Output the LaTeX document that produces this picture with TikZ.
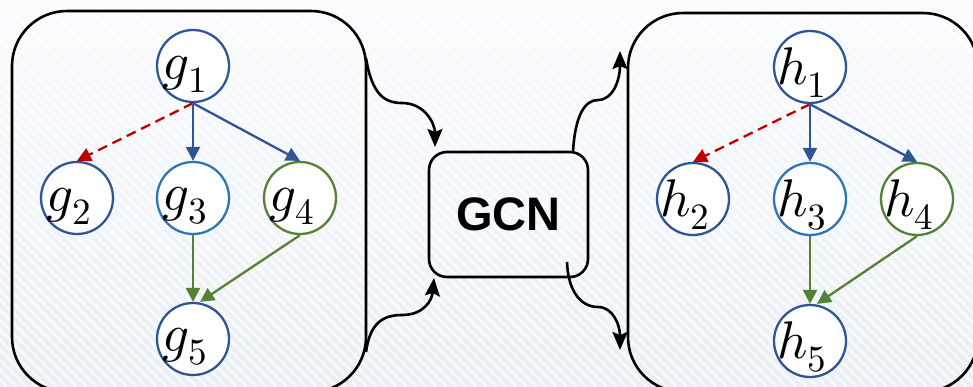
\documentclass[tikz,border=0pt]{standalone}
\usepackage{fontspec}
\usepackage{unicode-math}
\setmathfont{Latin Modern Math}
\newfontfamily\gcnfont{Liberation Sans}
\usetikzlibrary{arrows.meta}

\definecolor{nodeblue}{HTML}{2F5597}
\definecolor{lightblue}{HTML}{2E75B6}
\definecolor{nodegreen}{HTML}{548235}
\definecolor{edgered}{HTML}{C00000}
\definecolor{bgtop}{HTML}{FAFBFD}
\definecolor{bgbot}{HTML}{EAEFF5}

\tikzset{
  vertex/.style={circle,draw=#1,fill=white,line width=2.3pt,
    minimum size=72pt,inner sep=0pt},
  vlabel/.style={font=\fontsize{53}{56}\selectfont,inner sep=0pt},
  graphbox/.style={draw=black,line width=2.6pt,rounded corners=55pt},
  coloredge/.style={draw=#1,line width=2.3pt,
    -{Triangle[length=14pt,width=14pt]},shorten <=0pt},
  flow/.style={draw=black,line width=2.6pt,
    -{Stealth[length=18pt,width=15pt,inset=3pt]}},
}

\begin{document}
\begin{tikzpicture}[x=1pt,y=-1pt]
\useasboundingbox (0,0) rectangle (973,386);

% striped light background
\shade[top color=bgtop,bottom color=bgbot] (0,0) rectangle (973,386);
\begin{scope}
  \clip (0,0) rectangle (973,386);
  \foreach \i in {-400,-390,...,980}
    \draw[white,line width=3pt,opacity=0.6] (\i,0) -- (\i+386,386);
\end{scope}

% input graph box, GCN box, output graph box
\draw[graphbox] (12,11) rectangle (366,392);
\draw[graphbox] (628,13) rectangle (978,392);
\node[draw=black,line width=2.6pt,rounded corners=18pt,minimum width=159pt,
  minimum height=125pt,inner sep=0pt] (gcn) at (508.5,214.5)
  {\gcnfont\bfseries\fontsize{47}{50}\selectfont GCN};

% input graph
\foreach \n/\x/\y/\c in {1/193/66/nodeblue,2/77/198/nodeblue,3/193/198/lightblue,
                         4/300/198/nodegreen,5/193/339/nodeblue}{
  \node[vertex=\c] (g\n) at (\x,\y) {};
  \node[vlabel] (gl\n) at ([xshift=-8pt,yshift=-8pt]g\n.center) {$g_{\n}$};
}
\draw[coloredge=edgered,dash pattern=on 10pt off 6pt] (g1.south) -- (g2.north);
\draw[coloredge=nodeblue] (g1.south) -- (g3.north);
\draw[coloredge=nodeblue] (g1.south) -- (g4.north);
\draw[coloredge=nodegreen] (g3.south) -- (g5.north);
\draw[coloredge=nodegreen] (g4.south) -- ([xshift=7pt]g5.north);

% output graph
\foreach \n/\x/\y/\c in {1/810/67/nodeblue,2/693/199/nodeblue,3/810/199/lightblue,
                         4/917/199/nodegreen,5/810/341/nodeblue}{
  \node[vertex=\c] (h\n) at (\x,\y) {};
  \node[vlabel] (hl\n) at ([xshift=-8pt,yshift=-6pt]h\n.center) {$h_{\n}$};
}
\draw[coloredge=edgered,dash pattern=on 10pt off 6pt] (h1.south) -- (h2.north);
\draw[coloredge=nodeblue] (h1.south) -- (h3.north);
\draw[coloredge=nodeblue] (h1.south) -- (h4.north);
\draw[coloredge=nodegreen] (h3.south) -- (h5.north);
\draw[coloredge=nodegreen] (h4.south) -- ([xshift=7pt]h5.north);

% flow arrows between the boxes
\coordinate (inA) at (366,58);
\coordinate (inB) at (366,352);
\coordinate (gcnA) at (435,147);
\coordinate (gcnB) at (434,278);
\coordinate (gcnC) at (573,152);
\coordinate (gcnD) at (567,262);
\coordinate (outA) at (620,51);
\coordinate (outB) at (620,350);

\draw[flow] (inA) .. controls (372,95) and (385,103) .. (402,103)
  .. controls (425,103) and (435,124) .. (gcnA);
\draw[flow] (inB) .. controls (370,322) and (384,315) .. (402,315)
  .. controls (424,315) and (432,300) .. (gcnB);
\draw[flow] (gcnC) .. controls (575,115) and (585,100) .. (598,100)
  .. controls (613,100) and (620,80) .. (outA);
\draw[flow] (gcnD) .. controls (568,290) and (580,307) .. (598,307)
  .. controls (613,307) and (620,325) .. (outB);
\end{tikzpicture}
\end{document}
